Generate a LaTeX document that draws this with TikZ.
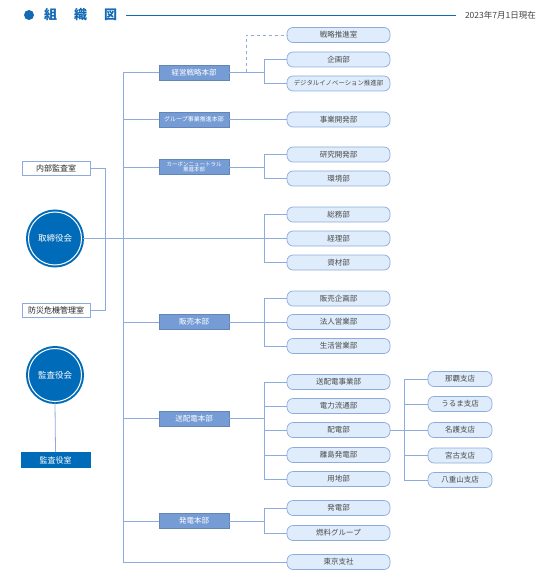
\documentclass[tikz,border=0pt]{standalone}
\usepackage{fontspec}
\newfontfamily\jpfont{Noto Sans CJK JP}
\usetikzlibrary{shadows}

\definecolor{lineblue}{RGB}{141,172,221}
\definecolor{honbublue}{RGB}{118,156,214}
\definecolor{deptfill}{RGB}{222,236,251}
\definecolor{boardblue}{RGB}{0,107,185}
\definecolor{titleblue}{RGB}{20,105,180}

\begin{document}
\begin{tikzpicture} [
  x = 1pt,
  y = -1pt,
  link/.style = {draw = lineblue, line width = .8pt},
  honbu/.style = {fill = honbublue, draw = honbublue!85!black, text = white, minimum width = 70pt, minimum height = 15pt, inner sep = 0pt, font = \jpfont\fontsize{7.5}{8}\selectfont},
  dept/.style = {rounded corners = 6pt, fill = deptfill, draw = lineblue, line width = .7pt, text = black!70, minimum width = 103pt, minimum height = 15pt, inner sep = 0pt, font = \jpfont\fontsize{7.5}{8}\selectfont},
  shiten/.style = {dept, minimum width = 64pt},
  office/.style = {draw = lineblue, fill = white, line width = .8pt, text = black!85, minimum width = 68pt, minimum height = 14pt, inner sep = 0pt, font = \jpfont\fontsize{8}{9}\selectfont},
  board/.style = {circle, fill = boardblue, draw = boardblue, line width = 2pt, double = white, double distance = 1pt, minimum size = 53pt, inner sep = 0pt, text = white, drop shadow = {opacity = .3, shadow xshift = 1.5pt, shadow yshift = -1.5pt}, font = \jpfont\fontsize{8.5}{9}\selectfont},
]
\useasboundingbox (0, 0) rectangle (547, 577);

% title row
\fill [titleblue] (29, 15) circle [radius = 5];
\node [anchor = west, text = titleblue, inner sep = 0pt, font = \jpfont\bfseries\fontsize{13}{14}\selectfont] (title) at (44, 15) {組\hspace{17pt}織\hspace{17pt}図};
\node [anchor = east, text = black!75, inner sep = 0pt, font = \jpfont\fontsize{8.5}{9}\selectfont] (date) at (536, 15) {2023年7月1日現在};
\draw [titleblue, line width = .9pt] (title.east) ++(9, 0) -- ([xshift = -9pt] date.west);

% boards and offices
\node [board] (torishimari) at (55, 238.5) {取締役会};
\node [board] (kansayakukai) at (55, 375) {監査役会};
\node [office] (naibu) at (56, 168) {内部監査室};
\node [office] (bousai) at (56, 310) {防災危機管理室};
\node [office, fill = boardblue, draw = boardblue, text = white, minimum width = 69pt, minimum height = 15pt] (kansashitsu) at (55.5, 460) {監査役室};

% head offices
\node [honbu] (keiei) at (194, 72.5) {経営戦略本部};
\node [honbu, font = \jpfont\fontsize{6}{7}\selectfont] (group) at (194, 119.5) {グループ事業推進本部};
\node [honbu, align = center, font = \jpfont\fontsize{5.5}{5.5}\selectfont] (carbon) at (194, 167) {カーボンニュートラル\\推進本部};
\node [honbu] (hanbai) at (194, 322) {販売本部};
\node [honbu] (souhaiden) at (194, 418.5) {送配電本部};
\node [honbu] (hatsuden) at (194, 521) {発電本部};

% departments
\node [dept] (senryaku) at (338.5, 35) {戦略推進室};
\node [dept] (kikaku) at (338.5, 59.5) {企画部};
\node [dept, font = \jpfont\fontsize{6.4}{7}\selectfont] (digital) at (338.5, 83.5) {デジタルイノベーション推進部};
\node [dept] (jigyou) at (338.5, 119.5) {事業開発部};
\node [dept] (kenkyu) at (338.5, 154.5) {研究開発部};
\node [dept] (kankyou) at (338.5, 178.5) {環境部};
\node [dept] (soumu) at (338.5, 214.5) {総務部};
\node [dept] (keiri) at (338.5, 238.5) {経理部};
\node [dept] (shizai) at (338.5, 262.5) {資材部};
\node [dept] (hkikaku) at (338.5, 298.5) {販売企画部};
\node [dept] (houjin) at (338.5, 322) {法人営業部};
\node [dept] (seikatsu) at (338.5, 346) {生活営業部};
\node [dept] (sjigyou) at (338.5, 382) {送配電事業部};
\node [dept] (ryutsu) at (338.5, 406) {電力流通部};
\node [dept] (haiden) at (338.5, 430) {配電部};
\node [dept] (ritou) at (338.5, 455) {離島発電部};
\node [dept] (youchi) at (338.5, 479) {用地部};
\node [dept] (hden) at (338.5, 508) {発電部};
\node [dept] (nenryou) at (338.5, 533) {燃料グループ};
\node [dept] (tokyo) at (338.5, 562) {東京支社};

% branches
\node [shiten] (naha) at (460, 379) {那覇支店};
\node [shiten] (uruma) at (460, 404) {うるま支店};
\node [shiten] (nago) at (460, 430) {名護支店};
\node [shiten] (miyako) at (460, 455.5) {宮古支店};
\node [shiten] (yaeyama) at (460, 480) {八重山支店};

\coordinate (trunk) at (123, 72.5);
\coordinate (bx) at (264, 0);
\coordinate (dx) at (246, 0);
\coordinate (ox) at (105, 0);
\coordinate (sx) at (404, 0);

% trunk and head office branches
\draw [link] (keiei.west) -- (trunk) -- (trunk |- tokyo) -- (tokyo.west);
\foreach \h in {group, carbon, hanbai, souhaiden, hatsuden}
  \draw [link] (\h.west) -- (\h.west -| trunk);
\draw [link] (group.east) -- (jigyou.west);

% brackets
\draw [link] (keiei.east) -- (keiei.east -| bx);
\draw [link] (kikaku.west) -- (kikaku.west -| bx) -- (digital.west -| bx) -- (digital.west);
\draw [link, dashed] (keiei.east -| dx) -- (dx |- senryaku) -- (senryaku.west);
\draw [link] (carbon.east) -- (carbon.east -| bx);
\draw [link] (kenkyu.west) -- (kenkyu.west -| bx) -- (kankyou.west -| bx) -- (kankyou.west);
\draw [link] (torishimari.east) -- (torishimari.east -| bx);
\draw [link] (soumu.west) -- (soumu.west -| bx) -- (shizai.west -| bx) -- (shizai.west);
\draw [link] (keiri.west) -- (keiri.west -| bx);
\draw [link] (hanbai.east) -- (hanbai.east -| bx);
\draw [link] (hkikaku.west) -- (hkikaku.west -| bx) -- (seikatsu.west -| bx) -- (seikatsu.west);
\draw [link] (houjin.west) -- (houjin.west -| bx);
\draw [link] (souhaiden.east) -- (souhaiden.east -| bx);
\draw [link] (sjigyou.west) -- (sjigyou.west -| bx) -- (youchi.west -| bx) -- (youchi.west);
\foreach \d in {ryutsu, haiden, ritou}
  \draw [link] (\d.west) -- (\d.west -| bx);
\draw [link] (hatsuden.east) -- (hatsuden.east -| bx);
\draw [link] (hden.west) -- (hden.west -| bx) -- (nenryou.west -| bx) -- (nenryou.west);

% branches of haiden
\draw [link] (haiden.east) -- (nago.west);
\draw [link] (naha.west) -- (naha.west -| sx) -- (yaeyama.west -| sx) -- (yaeyama.west);
\draw [link] (uruma.west) -- (uruma.west -| sx);
\draw [link] (miyako.west) -- (miyako.west -| sx);

% offices and audit
\draw [link] (naibu.east) -- (naibu.east -| ox) -- (bousai.east -| ox) -- (bousai.east);
\draw [link] (kansayakukai.south) -- (kansashitsu.north);
\end{tikzpicture}
\end{document}
